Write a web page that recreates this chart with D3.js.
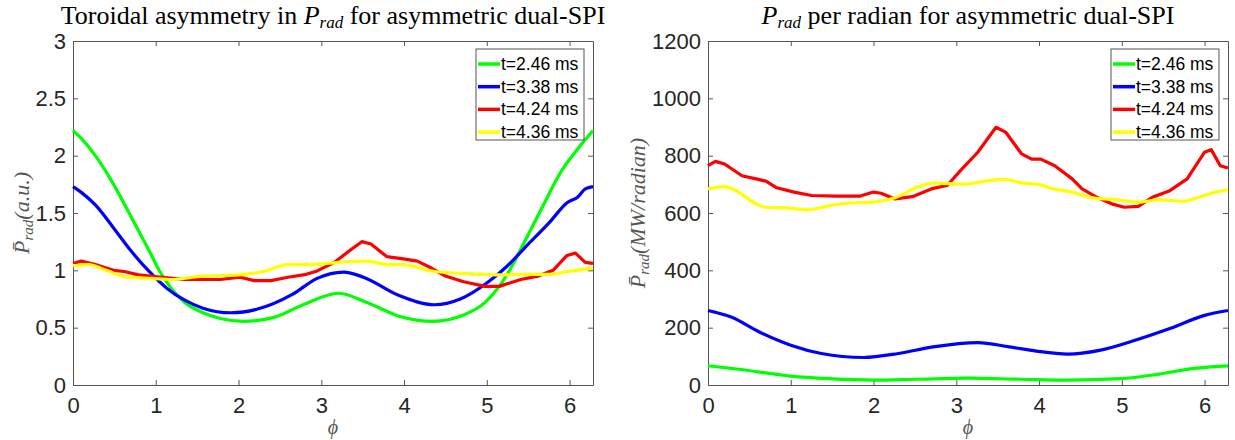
<!DOCTYPE html>
<html>
<head>
<meta charset="utf-8">
<script src="https://cdn.jsdelivr.net/npm/d3@7"></script>
<style>
  body { margin: 0; background: #fff; }
  text { font-family: "Liberation Sans", Arial, sans-serif; }
  .math { font-family: "Liberation Serif", "Times New Roman", serif; }
</style>
</head>
<body>
<div id="wrapper"></div>
<script>
// legend labels (same for both panels)
const seriesLabels = ["t=2.46 ms", "t=3.38 ms", "t=4.24 ms", "t=4.36 ms"];

// tick values
const xTicks = [0, 1, 2, 3, 4, 5, 6];
const yTicksLeft = [0, 0.5, 1, 1.5, 2, 2.5, 3];
const yTicksRight = [0, 200, 400, 600, 800, 1000, 1200];

// left panel: toroidal asymmetry (a.u.)
const phiAsym246 = [0, 0.1, 0.27, 0.49, 0.7, 0.92, 1.05, 1.2, 1.35, 1.57, 1.78, 2.06, 2.43, 2.78, 3.21, 3.55, 3.94, 4.35, 4.72, 4.98, 5.15, 5.33, 5.45, 5.67, 5.88, 6.1, 6.283];
const asym246 = [2.22, 2.15, 2.0, 1.75, 1.47, 1.17, 0.99, 0.83, 0.72, 0.63, 0.58, 0.555, 0.59, 0.7, 0.8, 0.72, 0.6, 0.555, 0.61, 0.72, 0.86, 1.07, 1.24, 1.55, 1.84, 2.06, 2.22];

const phiAsym338 = [0, 0.1, 0.27, 0.49, 0.7, 0.92, 1.14, 1.35, 1.57, 1.91, 2.22, 2.65, 2.95, 3.27, 3.51, 3.94, 4.37, 4.68, 5.02, 5.28, 5.45, 5.76, 5.97, 6.1, 6.19, 6.283];
const asym338 = [1.73, 1.68, 1.57, 1.37, 1.17, 0.99, 0.84, 0.74, 0.67, 0.63, 0.66, 0.79, 0.93, 0.985, 0.94, 0.78, 0.7, 0.75, 0.9, 1.06, 1.19, 1.42, 1.59, 1.64, 1.71, 1.73];

const phiAsym424 = [0, 0.1, 0.27, 0.49, 0.62, 0.79, 1.05, 1.35, 1.78, 2.02, 2.19, 2.39, 2.6, 2.82, 2.95, 3.16, 3.34, 3.49, 3.6, 3.79, 3.99, 4.16, 4.33, 4.5, 4.72, 4.98, 5.15, 5.41, 5.62, 5.8, 5.97, 6.07, 6.19, 6.283];
const asym424 = [1.06, 1.08, 1.05, 1.0, 0.99, 0.96, 0.94, 0.92, 0.92, 0.94, 0.91, 0.91, 0.94, 0.965, 0.995, 1.07, 1.17, 1.25, 1.23, 1.12, 1.1, 1.08, 1.02, 0.95, 0.9, 0.86, 0.86, 0.92, 0.95, 1.0, 1.13, 1.15, 1.07, 1.06];

const phiAsym436 = [0, 0.19, 0.4, 0.66, 0.96, 1.18, 1.57, 2.0, 2.3, 2.6, 2.86, 3.21, 3.55, 3.81, 3.99, 4.37, 4.81, 5.15, 5.45, 5.76, 5.97, 6.283];
const asym436 = [1.04, 1.05, 1.0, 0.94, 0.93, 0.92, 0.95, 0.96, 0.99, 1.05, 1.05, 1.07, 1.08, 1.05, 1.05, 0.99, 0.97, 0.96, 0.965, 0.965, 0.99, 1.02];

// right panel: P_rad per radian (MW/radian)
const phiPow246 = [0, 0.4, 1.0, 1.46, 2.0, 2.51, 3.14, 3.77, 4.35, 4.98, 5.45, 5.87, 6.283];
const pow246 = [67, 54, 31, 22, 17, 20, 24, 20, 17, 22, 38, 58, 67];

const phiPow338 = [0, 0.28, 0.62, 1.0, 1.37, 1.88, 2.3, 2.72, 3.26, 3.64, 3.97, 4.35, 4.73, 5.16, 5.58, 6.0, 6.283];
const pow338 = [260, 237, 185, 139, 110, 96, 110, 133, 148, 133, 118, 108, 121, 156, 197, 243, 260];

const phiPow424 = [0, 0.09, 0.2, 0.41, 0.58, 0.7, 0.83, 1.04, 1.25, 1.54, 1.84, 2.0, 2.09, 2.26, 2.47, 2.72, 2.89, 3.05, 3.26, 3.48, 3.6, 3.79, 3.91, 4.02, 4.19, 4.4, 4.52, 4.71, 4.9, 5.03, 5.2, 5.37, 5.58, 5.79, 6.0, 6.08, 6.19, 6.283];
const pow424 = [765, 780, 771, 730, 719, 711, 688, 673, 661, 659, 659, 673, 669, 649, 657, 686, 696, 748, 812, 899, 881, 806, 788, 788, 765, 719, 684, 653, 630, 620, 623, 655, 678, 719, 812, 821, 765, 757];

const phiPow436 = [0, 0.2, 0.32, 0.58, 0.7, 0.95, 1.21, 1.46, 1.67, 2.0, 2.26, 2.55, 2.72, 3.1, 3.35, 3.58, 3.81, 3.98, 4.15, 4.4, 4.65, 4.94, 5.2, 5.45, 5.75, 5.91, 6.08, 6.283];
const pow436 = [684, 692, 681, 632, 620, 618, 611, 626, 634, 638, 653, 692, 704, 701, 711, 717, 704, 701, 686, 673, 653, 646, 638, 646, 641, 653, 669, 681];

const colors = ["#00ff00", "#0000ff", "#ff0000", "#ffff00"];

function buildChart() {
  const svg = d3.select("#wrapper").append("svg")
    .attr("width", 1235)
    .attr("height", 440);

  const panels = [
    {
      left: 73,
      labelX: 22,
      yMax: 3,
      yTicks: yTicksLeft,
      series: [[phiAsym246, asym246], [phiAsym338, asym338], [phiAsym424, asym424], [phiAsym436, asym436]],
      title: ["Toroidal asymmetry in ", "P", "rad", " for asymmetric dual-SPI"],
      ylabel: "(a.u.)",
    },
    {
      left: 708,
      labelX: 638,
      yMax: 1200,
      yTicks: yTicksRight,
      series: [[phiPow246, pow246], [phiPow338, pow338], [phiPow424, pow424], [phiPow436, pow436]],
      title: ["", "P", "rad", " per radian for asymmetric dual-SPI"],
      ylabel: "(MW/radian)",
    },
  ];

  const top = 41;
  const bottom = 385;
  const width = 520;

  panels.forEach((p) => {
    const x = d3.scaleLinear().domain([0, 2 * Math.PI]).range([p.left, p.left + width]);
    const y = d3.scaleLinear().domain([0, p.yMax]).range([bottom, top]);
    const g = svg.append("g");

    // axes (MATLAB-style box with inward ticks)
    const axisStyle = (sel) => {
      sel.selectAll("path, line").attr("stroke", "#555").attr("stroke-width", 1);
      sel.selectAll("text")
        .attr("fill", "#262626")
        .style("font-family", '"Liberation Sans", Arial, sans-serif')
        .style("font-size", "22px");
    };

    g.append("g")
      .attr("transform", `translate(0,${bottom})`)
      .call(d3.axisBottom(x).tickValues(xTicks).tickFormat(d3.format("d"))
        .tickSizeInner(-5).tickSizeOuter(0).tickPadding(12))
      .call(axisStyle);

    g.append("g")
      .attr("transform", `translate(0,${top})`)
      .call(d3.axisTop(x).tickValues(xTicks).tickFormat("")
        .tickSizeInner(-5).tickSizeOuter(0))
      .call(axisStyle);

    g.append("g")
      .attr("transform", `translate(${p.left},0)`)
      .call(d3.axisLeft(y).tickValues(p.yTicks).tickFormat(d3.format("~g"))
        .tickSizeInner(-5).tickSizeOuter(0).tickPadding(7))
      .call(axisStyle);

    g.append("g")
      .attr("transform", `translate(${p.left + width},0)`)
      .call(d3.axisRight(y).tickValues(p.yTicks).tickFormat("")
        .tickSizeInner(-5).tickSizeOuter(0))
      .call(axisStyle);

    g.selectAll(".domain").attr("fill", "none");

    // curves
    const line = d3.line()
      .x((d) => x(d[0]))
      .y((d) => y(d[1]));

    p.series.forEach((s, i) => {
      const pts = s[0].map((v, k) => [v, s[1][k]]);
      line.curve(i === 2 ? d3.curveLinear : d3.curveMonotoneX);
      g.append("path")
        .datum(pts)
        .attr("fill", "none")
        .attr("stroke", colors[i])
        .attr("stroke-width", 3.2)
        .attr("stroke-linejoin", "round")
        .attr("d", line);
    });

    // title
    const cx = p.left + width / 2;
    const title = g.append("text")
      .attr("class", "math")
      .attr("x", cx)
      .attr("y", 24)
      .attr("text-anchor", "middle")
      .attr("fill", "#000")
      .style("font-size", "26px");
    title.append("tspan").text(p.title[0]);
    title.append("tspan").style("font-style", "italic").text(p.title[1]);
    title.append("tspan").style("font-style", "italic").style("font-size", "17px")
      .attr("dy", 4).text(p.title[2]);
    title.append("tspan").attr("dy", -4).text(p.title[3]);

    // x label
    g.append("text")
      .attr("class", "math")
      .attr("x", cx)
      .attr("y", 434)
      .attr("text-anchor", "middle")
      .attr("fill", "#555")
      .style("font-style", "italic")
      .style("font-size", "20px")
      .text("\u03d5");

    // y label
    const yl = g.append("text")
      .attr("class", "math")
      .attr("transform", `translate(${p.labelX + 7},${(top + bottom) / 2}) rotate(-90)`)
      .attr("text-anchor", "middle")
      .attr("fill", "#555")
      .style("font-style", "italic")
      .style("font-size", "22px");
    yl.append("tspan").text("P\u0304");
    yl.append("tspan").style("font-size", "15px").attr("dy", 4).text("rad");
    yl.append("tspan").attr("dy", -4).text(p.ylabel);

    // legend
    const lx = p.left + width - 117;
    const ly = 49;
    const lg = g.append("g");
    lg.append("rect")
      .attr("x", lx)
      .attr("y", ly)
      .attr("width", 108)
      .attr("height", 91)
      .attr("fill", "#fff")
      .attr("stroke", "#555")
      .attr("stroke-width", 1);
    seriesLabels.forEach((label, i) => {
      const ry = ly + 15 + i * 22.7;
      lg.append("line")
        .attr("x1", lx + 2).attr("x2", lx + 24)
        .attr("y1", ry).attr("y2", ry)
        .attr("stroke", colors[i])
        .attr("stroke-width", 3.5);
      lg.append("text")
        .attr("x", lx + 25)
        .attr("y", ry + 6)
        .attr("fill", "#000")
        .style("font-size", "17.5px")
        .text(label);
    });
  });
}

buildChart();
</script>
</body>
</html>
